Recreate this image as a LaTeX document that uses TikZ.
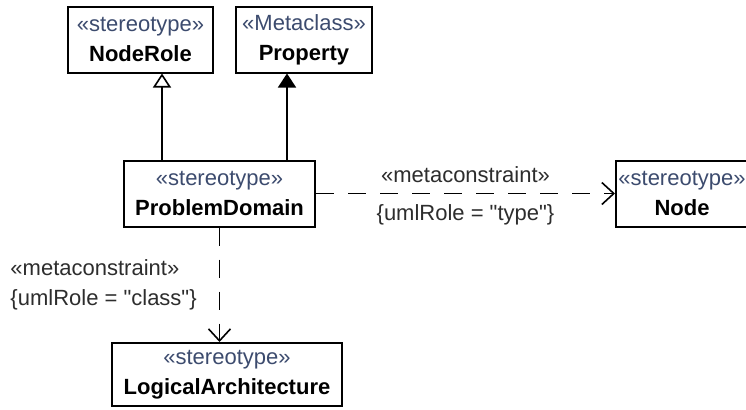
\documentclass[tikz,border=0pt]{standalone}
\usepackage{fontspec}
\setmainfont{Liberation Sans}[Ligatures=TeXOff]
\usetikzlibrary{arrows.meta,positioning,calc}
\definecolor{stereoblue}{RGB}{60,75,110}
\definecolor{labelgray}{RGB}{45,45,45}

\newcommand{\umlbox}[2]{{\color{stereoblue}«#1»}\\\textbf{#2}}

\begin{document}
\begin{tikzpicture}[
    x=0.5pt, y=-0.5pt,
    every node/.style={font=\fontsize{11}{15}\selectfont},
    umlclass/.style={draw, line width=1pt, align=center, inner sep=0pt, minimum height=33pt},
    dep/.style={line width=0.8pt, dash pattern=on 9pt off 7pt, -{Straight Barb[length=6pt,width=11pt]}},
    gen/.style={line width=0.8pt, -{Triangle[open,length=7pt,width=9pt]}},
    ext/.style={line width=0.8pt, -{Triangle[length=7pt,width=9pt]}},
    tag/.style={text=labelgray, inner sep=2pt}
]
\fill[white] (0,0) rectangle (746,409);
\useasboundingbox (0,0) rectangle (746,409);

\node[umlclass, minimum width=72.5pt] (noderole) at (140.5,39.5) {\umlbox{stereotype}{NodeRole}};
\node[umlclass, minimum width=68pt] (property) at (304,39.5) {\umlbox{Metaclass}{Property}};
\node[umlclass, minimum width=95.5pt] (probdomain) at (219.5,193.5) {\umlbox{stereotype}{ProblemDomain}};
\node[umlclass, minimum width=66pt] (node) at (682,193.5) {\umlbox{stereotype}{Node}};
\node[umlclass, minimum width=115pt, minimum height=31.5pt] (logarch) at (227,374.5) {\umlbox{stereotype}{LogicalArchitecture}};

% generalization and extension
\coordinate (gen_start) at ($(probdomain.north)+(-57.5,0)$);
\coordinate (ext_start) at ($(probdomain.north)+(67.5,0)$);
\draw[gen] (gen_start) -- (gen_start |- noderole.south);
\draw[ext] (ext_start) -- (ext_start |- property.south);

% metaconstraints
\draw[dep] (probdomain.east) -- node[tag, above=3pt] (mc_type) {«metaconstraint»}
    node[tag, below=3pt] (role_type) {\{umlRole = "type"\}} (node.west);
\draw[dep] (probdomain.south) -- node[tag, left=9pt, align=left] (mc_class) {«metaconstraint»\\\{umlRole = "class"\}}
    (probdomain.south |- logarch.north);

\end{tikzpicture}
\end{document}
